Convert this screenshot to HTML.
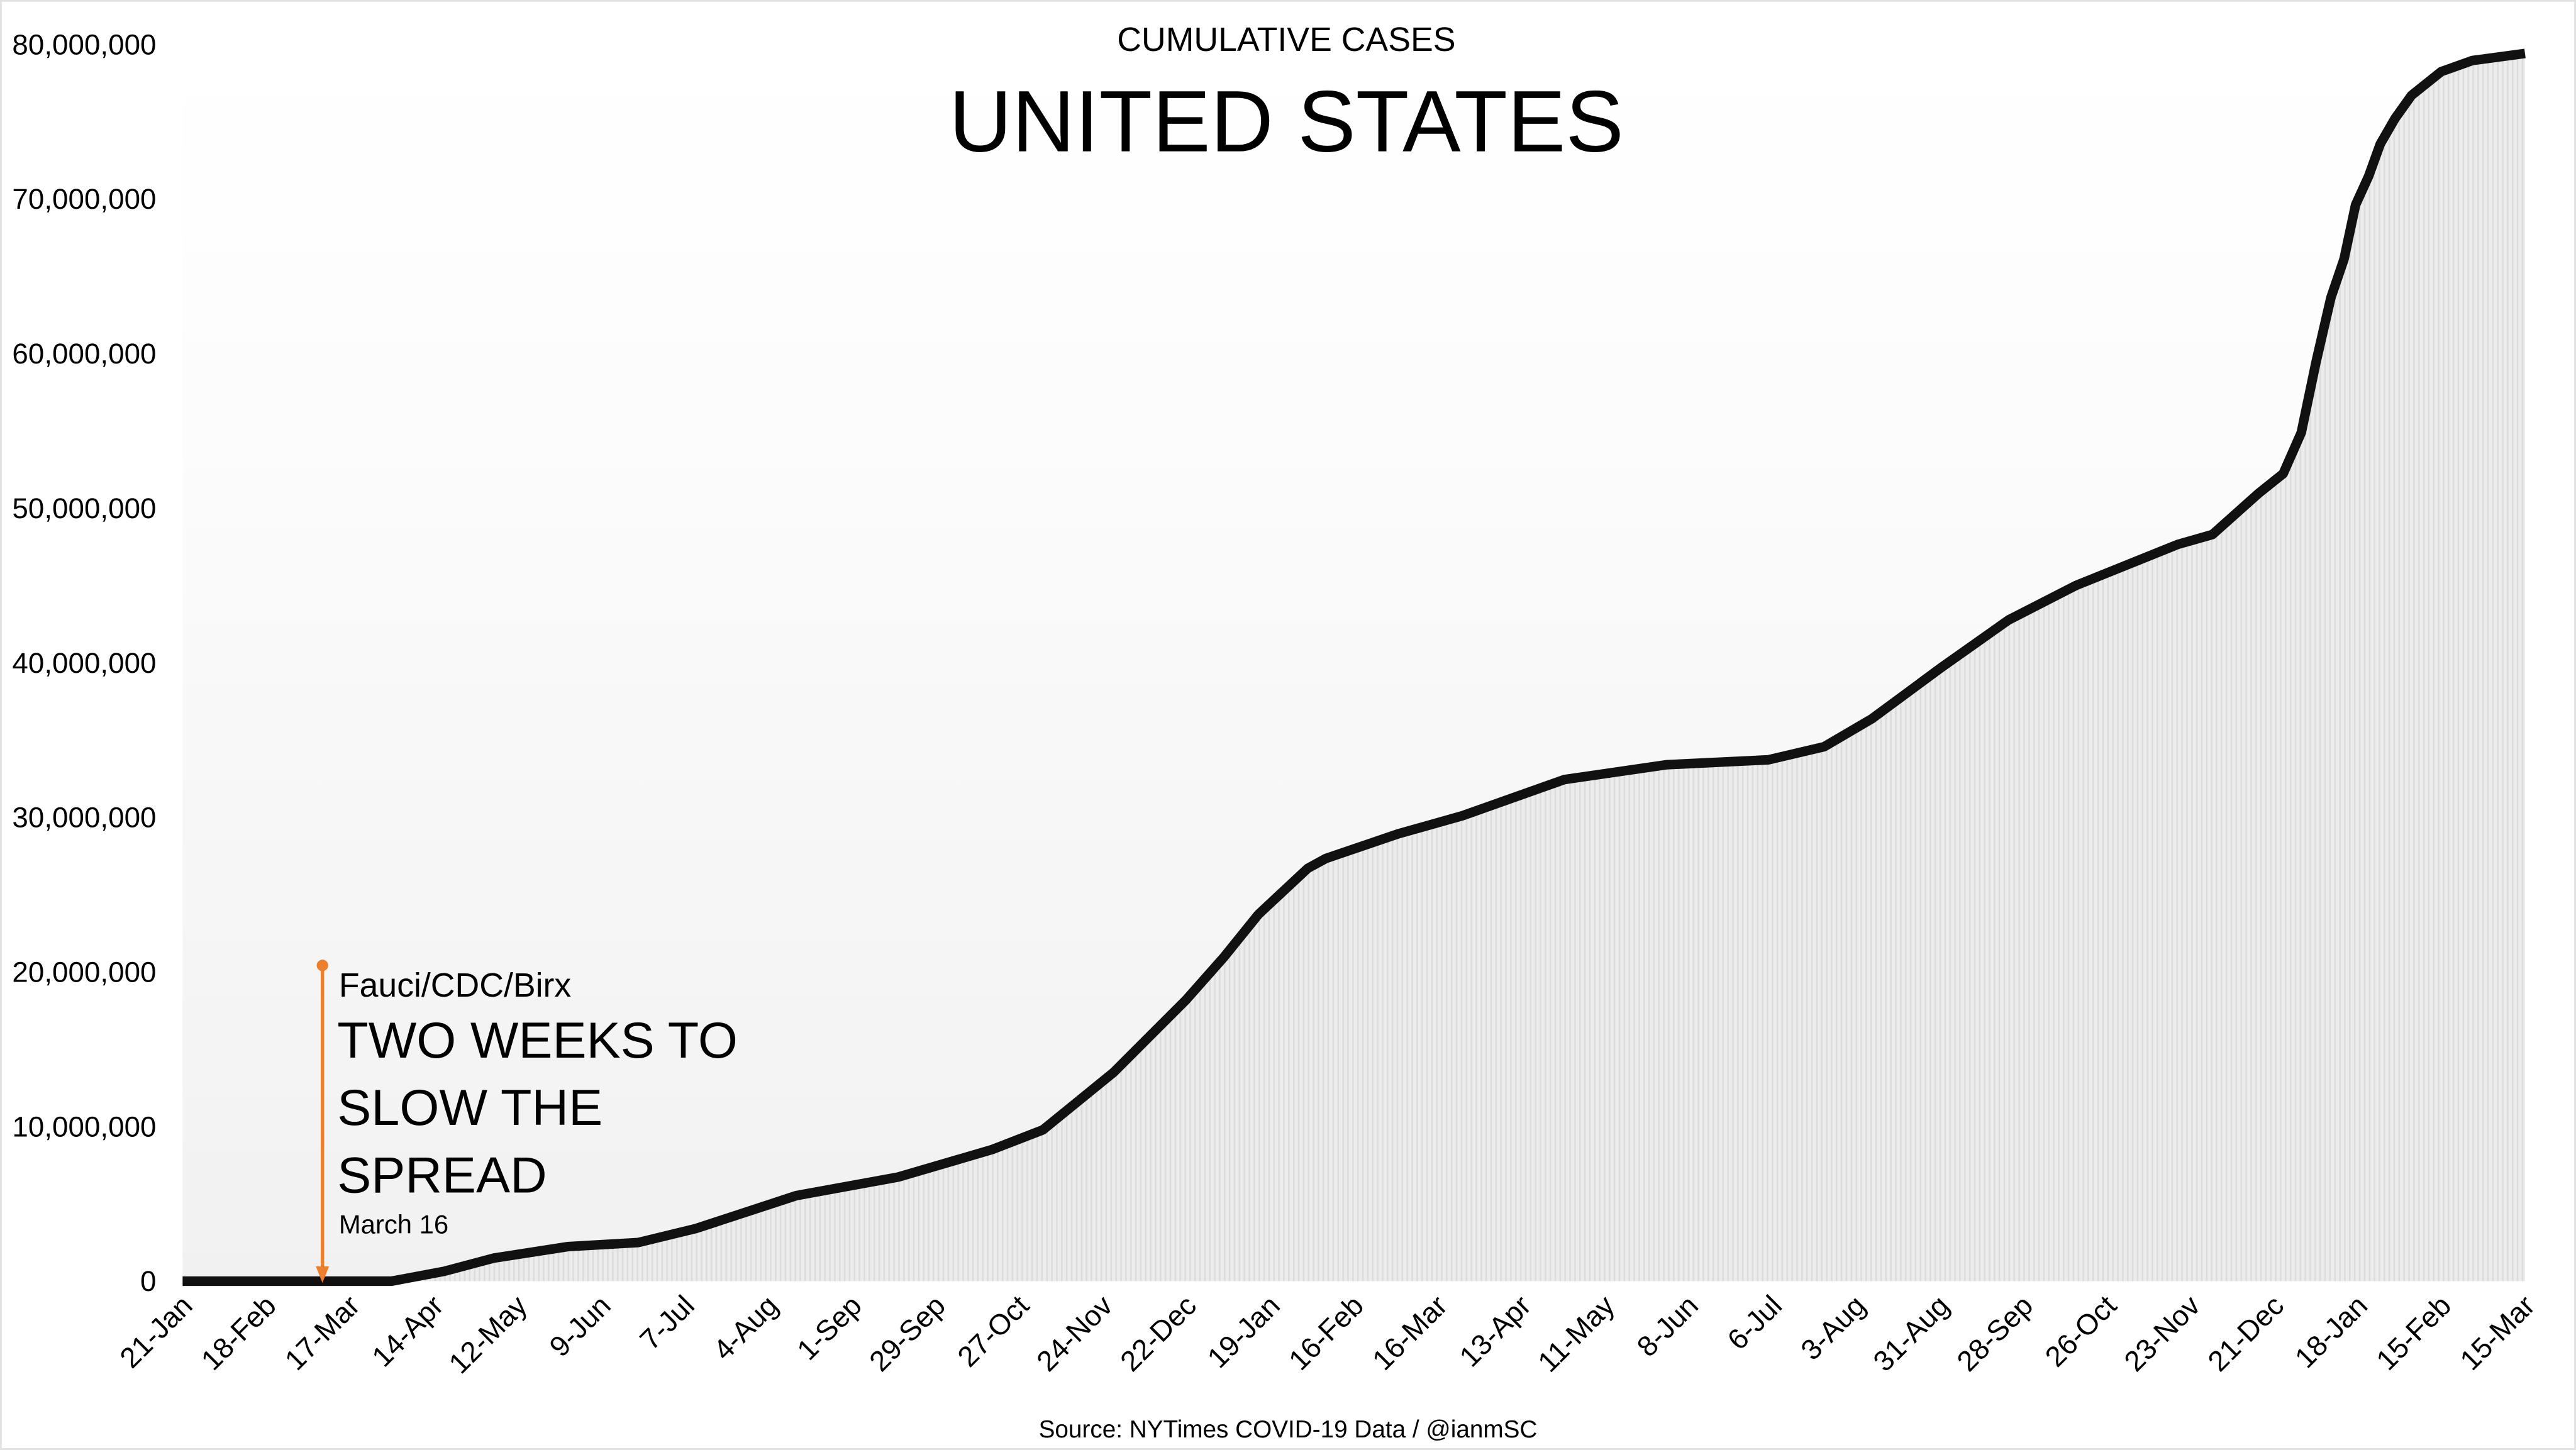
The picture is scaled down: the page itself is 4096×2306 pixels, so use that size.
<!DOCTYPE html>
<html><head><meta charset="utf-8"><style>
html,body{margin:0;padding:0;background:#fff;width:4096px;height:2306px;overflow:hidden}
svg{display:block}
text{font-family:"Liberation Sans","DejaVu Sans",sans-serif;fill:#000}
</style></head><body>
<svg width="4096" height="2306" viewBox="0 0 1566 881.65" xmlns="http://www.w3.org/2000/svg">
<defs>
<linearGradient id="bg" x1="0" y1="0" x2="0" y2="1">
<stop offset="0" stop-color="#ffffff"/>
<stop offset="0.3" stop-color="#fcfcfc"/>
<stop offset="1" stop-color="#f1f1f1"/>
</linearGradient>
<pattern id="bars" width="3" height="10" patternUnits="userSpaceOnUse">
<rect width="3" height="10" fill="#ececec"/>
<rect width="1" height="10" fill="#dcdcdc"/>
</pattern>
</defs>
<rect x="0.5" y="0.5" width="1565" height="880.6" fill="#fff" stroke="#e2e2e2" stroke-width="1.2"/>
<rect x="111" y="30" width="1424" height="749" fill="url(#bg)"/>
<path d="M111,779 L238,779 L270,773 L300,765 L345,758 L388,755.5 L423,747 L484,727 L546,715.7 L603,699 L634,687 L677,652 L721,608 L744,582 L765,556 L795,528 L806,522 L850,507 L889,496 L951,474 L1013,465 L1075,462 L1109,454 L1138,437 L1180,406 L1221,377 L1262,356 L1324,331 L1345,325 L1373,300 L1388,288 L1399,263 L1408,220 L1417,181 L1425,157.5 L1432,124.6 L1440,107 L1447,87.6 L1456,72 L1466,58 L1484,43.6 L1503,36.8 L1535,32.5 L1535,779 Z" fill="url(#bars)"/>
<polyline fill="none" stroke="#111" stroke-width="5.8" stroke-linejoin="round" points="111,779 238,779 270,773 300,765 345,758 388,755.5 423,747 484,727 546,715.7 603,699 634,687 677,652 721,608 744,582 765,556 795,528 806,522 850,507 889,496 951,474 1013,465 1075,462 1109,454 1138,437 1180,406 1221,377 1262,356 1324,331 1345,325 1373,300 1388,288 1399,263 1408,220 1417,181 1425,157.5 1432,124.6 1440,107 1447,87.6 1456,72 1466,58 1484,43.6 1503,36.8 1535,32.5"/>
<!-- annotation -->
<line x1="196" y1="587" x2="196" y2="772" stroke="#ee7f2d" stroke-width="2"/>
<circle cx="196" cy="587" r="3.5" fill="#ee7f2d"/>
<polygon points="192,770 200,770 196,780" fill="#ee7f2d"/>
<text x="206" y="606" font-size="20.5">Fauci/CDC/Birx</text>
<text x="205" y="643" font-size="31">TWO WEEKS TO</text>
<text x="205" y="684" font-size="31">SLOW THE</text>
<text x="205" y="725" font-size="31">SPREAD</text>
<text x="206" y="750" font-size="16">March 16</text>
<!-- titles -->
<text x="782" y="31" font-size="20.5" text-anchor="middle">CUMULATIVE CASES</text>
<text x="782" y="92" font-size="53" text-anchor="middle">UNITED STATES</text>
<text x="783" y="874" font-size="14.8" text-anchor="middle">Source: NYTimes COVID-19 Data / @ianmSC</text>
<!-- y axis -->
<g font-size="17.5" text-anchor="end">
<text x="95" y="33">80,000,000</text>
<text x="95" y="127">70,000,000</text>
<text x="95" y="221">60,000,000</text>
<text x="95" y="315">50,000,000</text>
<text x="95" y="409">40,000,000</text>
<text x="95" y="503">30,000,000</text>
<text x="95" y="597">20,000,000</text>
<text x="95" y="691">10,000,000</text>
<text x="95" y="785">0</text>
</g>
<g font-size="17.5" text-anchor="end" id="xl"></g>
</svg>
<script>
var labs=["21-Jan","18-Feb","17-Mar","14-Apr","12-May","9-Jun","7-Jul","4-Aug","1-Sep","29-Sep","27-Oct","24-Nov","22-Dec","19-Jan","16-Feb","16-Mar","13-Apr","11-May","8-Jun","6-Jul","3-Aug","31-Aug","28-Sep","26-Oct","23-Nov","21-Dec","18-Jan","15-Feb","15-Mar"];
var g=document.getElementById("xl"),ns="http://www.w3.org/2000/svg";
labs.forEach(function(l,i){var x=111+i*1424/28+7,y=795;var t=document.createElementNS(ns,"text");t.setAttribute("x",x);t.setAttribute("y",y);t.setAttribute("transform","rotate(-45 "+x+" "+y+")");t.textContent=l;g.appendChild(t);});
</script>
</body></html>
